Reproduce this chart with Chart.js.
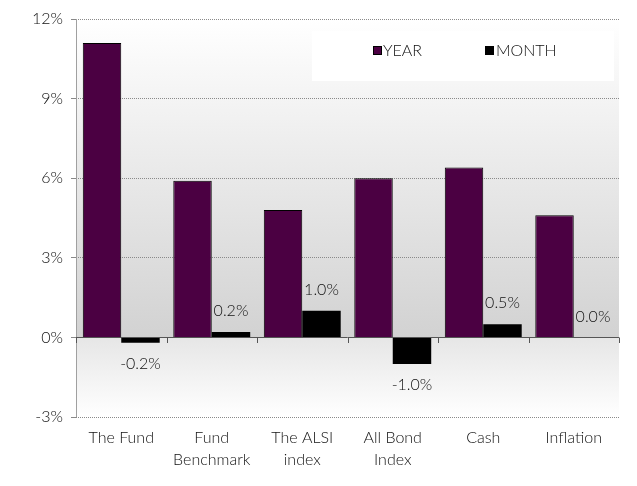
<!DOCTYPE html>
<html>
<head>
<meta charset="utf-8">
<script src="https://cdn.jsdelivr.net/npm/chart.js@4/dist/chart.umd.min.js"></script>
<style>
html,body{margin:0;padding:0;background:#fff;}
#wrap{width:637px;height:486px;position:relative;}
</style>
</head>
<body>
<div id="wrap"><canvas id="c" width="637" height="486"></canvas></div>
<script>
const categories = [["The Fund"], ["Fund", "Benchmark"], ["The ALSI", "index"], ["All Bond", "Index"], ["Cash"], ["Inflation"]];
const yearValues = [11.1, 5.9, 4.8, 6.0, 6.4, 4.6];
const monthValues = [-0.2, 0.2, 1.0, -1.0, 0.5, 0.0];
const seriesNames = ["YEAR", "MONTH"];
const yTicks = [-3, 0, 3, 6, 9, 12];

const FONT = "Lato, 'Noto Sans', sans-serif";
const FW = '300';
const TXT = '#111';

const bgPlugin = {
  id: 'bgPlugin',
  beforeDraw(chart) {
    const {ctx, chartArea: a, scales: {y}} = chart;
    const z = y.getPixelForValue(0);
    ctx.save();
    let g = ctx.createLinearGradient(0, a.top, 0, z);
    g.addColorStop(0, '#ffffff');
    g.addColorStop(1, '#d2d2d2');
    ctx.fillStyle = g;
    ctx.fillRect(a.left, a.top, a.right - a.left, z - a.top);
    g = ctx.createLinearGradient(0, z, 0, a.bottom);
    g.addColorStop(0, '#e6e6e6');
    g.addColorStop(1, '#ffffff');
    ctx.fillStyle = g;
    ctx.fillRect(a.left, z, a.right - a.left, a.bottom - z);
    // legend box
    ctx.fillStyle = '#ffffff';
    ctx.fillRect(312, 31, 302, 50);
    ctx.restore();
  },
  afterDatasetsDraw(chart) {
    const {ctx, chartArea: a, scales: {x, y}} = chart;
    const z = y.getPixelForValue(0);
    ctx.save();
    // y axis line
    ctx.strokeStyle = '#a0a0a0';
    ctx.lineWidth = 1;
    ctx.beginPath();
    ctx.moveTo(Math.round(a.left) + 0.5, a.top);
    ctx.lineTo(Math.round(a.left) + 0.5, a.bottom);
    ctx.stroke();
    // zero line
    ctx.strokeStyle = '#555';
    ctx.beginPath();
    ctx.moveTo(a.left, Math.round(z) + 0.5);
    ctx.lineTo(a.right, Math.round(z) + 0.5);
    ctx.stroke();
    // category tick marks
    const n = categories.length;
    const w = (a.right - a.left) / n;
    for (let i = 0; i <= n; i++) {
      const px = Math.round(a.left + i * w) + 0.5;
      ctx.beginPath();
      ctx.moveTo(px, Math.round(z) + 0.5);
      ctx.lineTo(px, Math.round(z) + 6);
      ctx.stroke();
    }
    // data labels for month series
    const meta = chart.getDatasetMeta(1);
    ctx.fillStyle = TXT;
    ctx.font = FW + ' 16px ' + FONT;
    ctx.textAlign = 'center';
    ctx.textBaseline = 'middle';
    meta.data.forEach((bar, i) => {
      const v = monthValues[i];
      const txt = v.toFixed(1) + '%';
      const yy = v < 0 ? bar.y + 21 : bar.y - 21;
      ctx.fillText(txt, bar.x, yy);
    });
    // legend
    const items = [[373, '#4b0042', seriesNames[0], 383], [485, '#000000', seriesNames[1], 496]];
    ctx.textAlign = 'left';
    ctx.textBaseline = 'alphabetic';
    items.forEach(it => {
      ctx.fillStyle = it[1];
      ctx.fillRect(it[0], 46, 9, 9);
      ctx.strokeStyle = '#000';
      ctx.strokeRect(it[0] + 0.5, 46.5, 8, 8);
      ctx.fillStyle = TXT;
      ctx.fillText(it[2], it[3], 56);
    });
    ctx.restore();
  }
};

new Chart(document.getElementById('c'), {
  type: 'bar',
  data: {
    labels: categories,
    datasets: [
      { label: seriesNames[0], data: yearValues, backgroundColor: '#4b0042', borderColor: '#000', borderWidth: 1, barPercentage: 1.0, categoryPercentage: 0.85 },
      { label: seriesNames[1], data: monthValues, backgroundColor: '#000000', borderColor: '#000', borderWidth: 0, barPercentage: 1.0, categoryPercentage: 0.85 }
    ]
  },
  options: {
    responsive: false,
    animation: false,
    devicePixelRatio: 1,
    layout: { padding: { left: 0, right: 18, top: 19, bottom: 0 } },
    plugins: { legend: { display: false }, tooltip: { enabled: false } },
    scales: {
      x: {
        grid: { display: false },
        border: { display: false },
        ticks: { color: TXT, font: { family: FONT, size: 16, weight: FW, lineHeight: 1.35 }, padding: 2, maxRotation: 0, autoSkip: false },
        afterFit(s) { s.height = 69; }
      },
      y: {
        min: -3, max: 12,
        afterBuildTicks(s) { s.ticks = yTicks.map(v => ({ value: v })); },
        afterFit(s) { s.width = 76; },
        grid: {
          color: (c) => c.tick && c.tick.value === 0 ? 'rgba(0,0,0,0)' : '#8a8a8a',
          lineWidth: 1,
          tickColor: '#888',
          tickLength: 5,
          tickBorderDash: [],
          drawOnChartArea: true
        },
        border: { display: false, dash: [1, 1] },
        ticks: { color: TXT, font: { family: FONT, size: 16, weight: FW }, padding: 8, callback: v => v + '%' }
      }
    }
  },
  plugins: [bgPlugin]
});
</script>
</body>
</html>
